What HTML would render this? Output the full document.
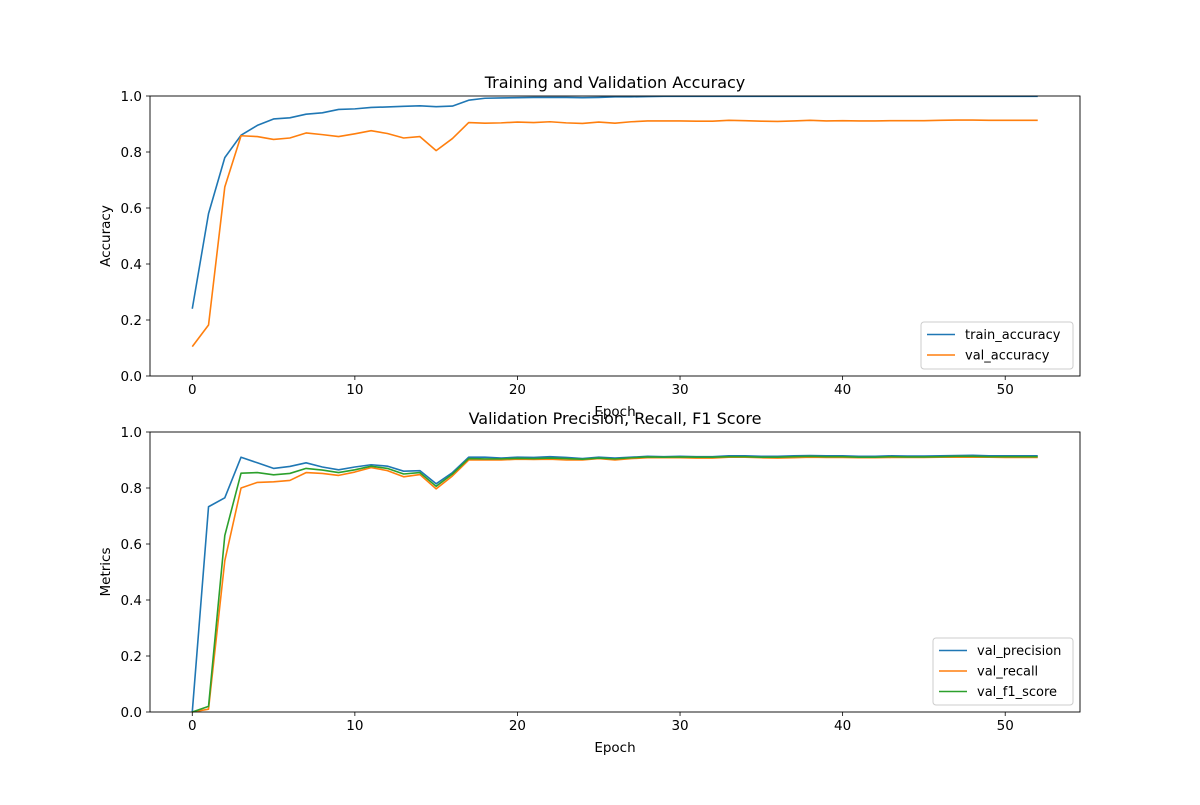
<!DOCTYPE html>
<html><head><meta charset="utf-8"><style>
body{margin:0;background:#fff;font-family:"Liberation Sans","DejaVu Sans",sans-serif;}
text{font-family:"DejaVu Sans","Liberation Sans",sans-serif;font-size:13.5px;fill:#000}
</style></head><body>
<svg id="chart" width="1200" height="800" xmlns="http://www.w3.org/2000/svg"></svg>
<script>
const epochs = Array.from({length:53},(_,i)=>i);
const trainAcc=[0.24,0.58,0.78,0.86,0.895,0.918,0.922,0.935,0.94,0.952,0.954,0.959,0.961,0.963,0.965,0.962,0.964,0.985,0.992,0.993,0.994,0.995,0.995,0.995,0.994,0.995,0.997,0.997,0.998,0.999,0.999,0.999,0.999,0.999,0.999,0.999,0.999,0.999,0.999,0.999,0.999,0.999,0.999,0.999,0.999,0.999,0.999,0.999,0.999,0.999,0.999,0.999,0.999];
const valAcc=[0.105,0.182,0.675,0.858,0.855,0.845,0.85,0.868,0.862,0.855,0.865,0.876,0.866,0.85,0.855,0.805,0.848,0.905,0.903,0.904,0.907,0.905,0.908,0.904,0.902,0.907,0.903,0.908,0.911,0.911,0.911,0.91,0.91,0.913,0.912,0.91,0.909,0.911,0.913,0.911,0.912,0.911,0.911,0.912,0.912,0.912,0.913,0.914,0.914,0.913,0.913,0.913,0.913];
const valPrecision=[0.0,0.733,0.765,0.91,0.89,0.87,0.877,0.89,0.875,0.865,0.875,0.883,0.878,0.86,0.862,0.815,0.855,0.91,0.91,0.907,0.91,0.909,0.912,0.909,0.905,0.91,0.907,0.91,0.913,0.912,0.913,0.912,0.912,0.915,0.915,0.913,0.913,0.915,0.916,0.915,0.915,0.913,0.913,0.915,0.914,0.914,0.915,0.916,0.917,0.915,0.915,0.915,0.915];
const valRecall=[0.0,0.01,0.54,0.8,0.82,0.822,0.827,0.855,0.852,0.845,0.857,0.873,0.862,0.84,0.848,0.797,0.843,0.9,0.9,0.9,0.903,0.902,0.903,0.9,0.9,0.905,0.9,0.905,0.908,0.908,0.908,0.907,0.907,0.91,0.91,0.908,0.907,0.908,0.91,0.909,0.909,0.908,0.908,0.909,0.909,0.909,0.91,0.91,0.91,0.91,0.909,0.909,0.909];
const valF1=[0.0,0.02,0.63,0.853,0.855,0.847,0.852,0.87,0.864,0.855,0.865,0.878,0.87,0.85,0.855,0.806,0.85,0.905,0.904,0.904,0.906,0.905,0.907,0.905,0.903,0.907,0.904,0.908,0.911,0.91,0.911,0.91,0.91,0.912,0.912,0.91,0.91,0.912,0.913,0.912,0.912,0.91,0.91,0.912,0.911,0.911,0.912,0.913,0.913,0.912,0.912,0.912,0.912];
const xTicks=[0,10,20,30,40,50];
const yTicks=[0,0.2,0.4,0.6,0.8,1.0];

const svg=document.getElementById('chart');
const NS='http://www.w3.org/2000/svg';
function mk(tag,attrs,parent){const e=document.createElementNS(NS,tag);for(const k in attrs)e.setAttribute(k,attrs[k]);(parent||svg).appendChild(e);return e;}
const X0=150,X1=1080,XMIN=-2.6,XMAX=54.6;
function xs(v){return X0+(v-XMIN)/(XMAX-XMIN)*(X1-X0);}

function panel(top,name,title,ylabel,series,legend){
  const bot=top+280;
  const g=mk('g',{});
  
  
  const ys=v=>bot-v*280;
  xTicks.forEach(t=>{
    mk('line',{x1:xs(t),x2:xs(t),y1:bot,y2:bot+4,stroke:'#000','stroke-width':0.8},g);
    const tx=mk('text',{x:xs(t),y:bot+18,'text-anchor':'middle'},g);tx.textContent=t;
    
    
  });
  yTicks.forEach(t=>{
    mk('line',{x1:X0-4,x2:X0,y1:ys(t),y2:ys(t),stroke:'#000','stroke-width':0.8},g);
    const tx=mk('text',{x:X0-8,y:ys(t)+5,'text-anchor':'end'},g);tx.textContent=t.toFixed(1);
    
    
  });
  series.forEach(s=>{
    const d=s.data.map((v,i)=>(i?'L':'M')+xs(epochs[i]).toFixed(2)+','+ys(v).toFixed(2)).join('');
    const p=mk('path',{d,fill:'none',stroke:s.color,'stroke-width':1.6,'stroke-linejoin':'round'},g);
    
    
  });
  mk('rect',{x:X0,y:top,width:X1-X0,height:280,fill:'none',stroke:'#000','stroke-width':0.9},g);
  const tt=mk('text',{x:(X0+X1)/2,y:top-8,'text-anchor':'middle',style:'font-size:16px'},g);tt.textContent=title;
  
  
  const xl=mk('text',{x:(X0+X1)/2,y:bot+40,'text-anchor':'middle'},g);xl.textContent='Epoch';
  
  
  const yl=mk('text',{x:110,y:top+140,'text-anchor':'middle',transform:`rotate(-90 110 ${top+140})`},g);yl.textContent=ylabel;
  
  
  const lg=mk('g',{},g);
  
  
  mk('rect',{x:legend.x,y:legend.y,width:legend.w,height:legend.h,fill:'#fff',stroke:'#ccc',rx:3},lg);
  series.forEach((s,i)=>{
    const yy=legend.y+12.5+i*20.5;
    mk('line',{x1:legend.x+6,x2:legend.x+34,y1:yy,y2:yy,stroke:s.color,'stroke-width':1.6},lg);
    const t=mk('text',{x:legend.x+44,y:yy+4.5,style:'font-size:13px'},lg);t.textContent=s.label;
    
    
  });
}
panel(96,'accuracy-panel','Training and Validation Accuracy','Accuracy',
 [{label:'train_accuracy',data:trainAcc,color:'#1f77b4'},{label:'val_accuracy',data:valAcc,color:'#ff7f0e'}],
 {x:921,y:322,w:152,h:47});
panel(432,'metrics-panel','Validation Precision, Recall, F1 Score','Metrics',
 [{label:'val_precision',data:valPrecision,color:'#1f77b4'},{label:'val_recall',data:valRecall,color:'#ff7f0e'},{label:'val_f1_score',data:valF1,color:'#2ca02c'}],
 {x:933,y:638,w:140,h:67});
</script>
</body></html>
